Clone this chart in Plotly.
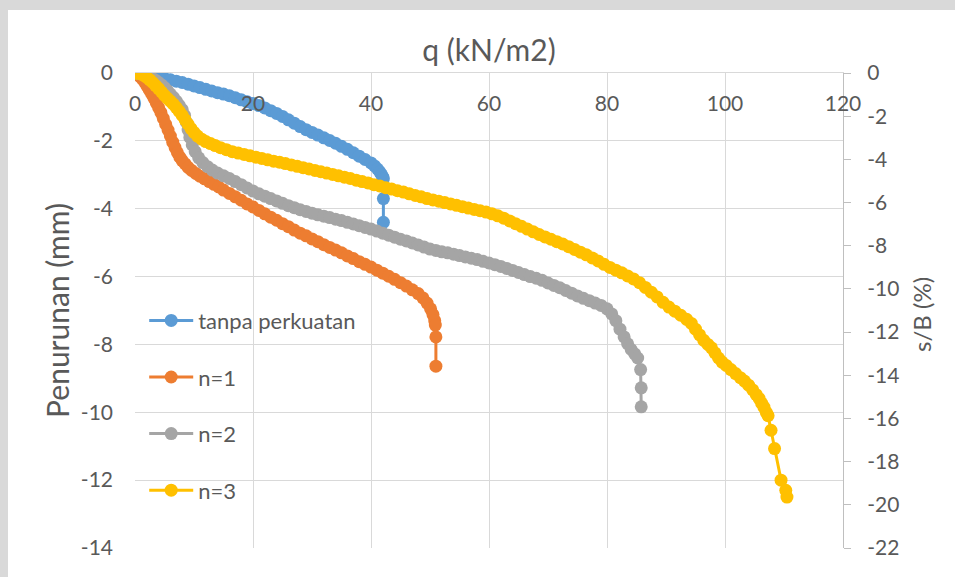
import plotly.graph_objects as go

# Load-settlement readings: q (kN/m2) against settlement (mm)
q_tanpa = [0, 1, 2, 3, 4, 5, 6, 7, 8, 9, 10, 11, 12, 13, 14, 15, 16, 17, 18, 19, 20,
           21, 22, 23, 24, 25, 26, 27, 28, 29, 30, 31, 32, 33, 34, 35, 36, 37, 38, 39,
           40, 40.6, 41.1, 41.5, 41.8, 42.0, 42.1, 42.1, 42.1]
s_tanpa = [0, -0.03, -0.06, -0.1, -0.13, -0.16, -0.2, -0.24, -0.28, -0.33, -0.38, -0.43,
           -0.48, -0.53, -0.58, -0.62, -0.67, -0.73, -0.79, -0.85, -0.9, -0.96, -1.03,
           -1.11, -1.19, -1.28, -1.38, -1.48, -1.58, -1.67, -1.75, -1.83, -1.91, -1.99,
           -2.07, -2.16, -2.25, -2.35, -2.45, -2.55, -2.65, -2.74, -2.83, -2.92, -3.0,
           -3.07, -3.12, -3.7, -4.4]

q_n1 = [0, 0.4, 0.8, 1.2, 1.6, 2.0, 2.4, 2.8, 3.2, 3.6, 4.0, 4.4, 4.8, 5.2, 5.6, 6.0,
        6.4, 6.8, 7.2, 7.6, 8.0, 8.5, 9.0, 9.6, 10.3, 11, 11.8, 12.6, 13.4, 14.2, 15,
        16, 17, 18, 19, 20, 21, 22, 23, 24, 25, 26, 27, 28, 29, 30, 31, 32, 33, 34, 35,
        36, 37, 38, 39, 40, 41, 42, 43, 44, 45, 46, 47, 48, 48.8, 49.5, 50.1, 50.5,
        50.8, 50.9, 51, 51]
s_n1 = [0, -0.05, -0.1, -0.17, -0.26, -0.37, -0.49, -0.61, -0.74, -0.88, -1.02, -1.17,
        -1.34, -1.51, -1.68, -1.86, -2.04, -2.2, -2.35, -2.48, -2.58, -2.68, -2.78,
        -2.87, -2.96, -3.04, -3.12, -3.2, -3.28, -3.36, -3.45, -3.55, -3.65, -3.75,
        -3.86, -3.95, -4.05, -4.15, -4.25, -4.34, -4.44, -4.53, -4.63, -4.72, -4.8,
        -4.89, -4.97, -5.06, -5.14, -5.22, -5.3, -5.39, -5.47, -5.56, -5.64, -5.72,
        -5.81, -5.9, -5.99, -6.08, -6.18, -6.28, -6.39, -6.5, -6.63, -6.78, -6.95,
        -7.12, -7.3, -7.43, -7.78, -8.64]

q_n2 = [0, 0.5, 1, 1.5, 2, 2.5, 3, 3.5, 4, 4.5, 5, 5.5, 6, 6.5, 7, 7.5, 8, 8.4, 8.7,
        9.0, 9.3, 9.7, 10.2, 10.8, 11.5, 12.3, 13.1, 14, 15, 16, 17, 18, 19, 20, 21, 22,
        23, 24, 25, 26, 27, 28, 29, 30, 31, 32, 33, 34, 35, 36, 37, 38, 39, 40, 41, 42,
        43, 44, 45, 46, 47, 48, 49, 50, 51, 52, 53, 54, 55, 56, 57, 58, 59, 60, 61, 62,
        63, 64, 65, 66, 67, 68, 69, 70, 71, 72, 73, 74, 75, 76, 77, 78, 79, 80, 80.8,
        81.5, 82.2, 82.9, 83.5, 84.1, 84.7, 85.2, 85.7, 85.8, 85.8]
s_n2 = [0, -0.01, -0.03, -0.05, -0.08, -0.12, -0.17, -0.22, -0.28, -0.35, -0.43, -0.52,
        -0.62, -0.72, -0.83, -0.95, -1.08, -1.25, -1.45, -1.68, -1.9, -2.12, -2.32,
        -2.5, -2.64, -2.76, -2.86, -2.95, -3.03, -3.11, -3.2, -3.29, -3.39, -3.48,
        -3.56, -3.63, -3.7, -3.77, -3.84, -3.91, -3.97, -4.03, -4.08, -4.13, -4.18,
        -4.22, -4.26, -4.31, -4.35, -4.4, -4.45, -4.5, -4.55, -4.6, -4.66, -4.72,
        -4.78, -4.84, -4.9, -4.95, -5.01, -5.07, -5.13, -5.19, -5.23, -5.27, -5.3,
        -5.34, -5.38, -5.42, -5.46, -5.5, -5.55, -5.6, -5.65, -5.7, -5.76, -5.82,
        -5.88, -5.94, -6.0, -6.05, -6.11, -6.19, -6.26, -6.33, -6.41, -6.49, -6.57,
        -6.64, -6.71, -6.78, -6.85, -6.95, -7.1, -7.3, -7.55, -7.78, -7.98, -8.15,
        -8.28, -8.4, -8.74, -9.28, -9.84]

q_n3 = [0, 0.5, 1, 1.5, 2, 2.5, 3, 3.5, 4, 4.5, 5, 5.5, 6, 6.5, 7, 7.5, 8, 8.5, 9, 9.5,
        10, 10.6, 11.3, 12, 12.8, 13.6, 14.5, 15.5, 16.5, 17.5, 18.5, 19.5, 20.5, 21.5,
        22.5, 23.5, 24.5, 25.5, 26.5, 27.5, 28.5, 29.5, 30.5, 31.5, 32.5, 33.5, 34.5,
        35.5, 36.5, 37.5, 38.5, 39.5, 40.5, 41.5, 42.5, 43.5, 44.5, 45.5, 46.5, 47.5,
        48.5, 49.5, 50.5, 51.5, 52.5, 53.5, 54.5, 55.5, 56.5, 57.5, 58.5, 59.5, 60.5,
        61.5, 62.5, 63.5, 64.5, 65.5, 66.5, 67.5, 68.5, 69.5, 70.5, 71.5, 72.5, 73.5,
        74.5, 75.5, 76.5, 77.5, 78.5, 79.5, 80.5, 81.5, 82.5, 83.5, 84.5, 85.5, 86.5,
        87.5, 88.5, 89.5, 90.5, 91.5, 92.5, 93.5, 94.3, 95, 95.7, 96.4, 97.1, 97.7,
        98.3, 98.9, 99.5, 100.2, 101, 101.8, 102.6, 103.3, 104, 104.7, 105.3, 105.8,
        106.2, 106.6, 107, 107.3, 107.8, 108.4, 109.5, 110.3, 110.5]
s_n3 = [0, -0.01, -0.03, -0.07, -0.13, -0.2, -0.28, -0.37, -0.46, -0.56, -0.66, -0.75,
        -0.83, -0.92, -1.02, -1.13, -1.25, -1.38, -1.51, -1.64, -1.75, -1.86, -1.95,
        -2.02, -2.08, -2.14, -2.2, -2.26, -2.32, -2.36, -2.4, -2.44, -2.48, -2.52,
        -2.56, -2.6, -2.63, -2.67, -2.71, -2.75, -2.79, -2.83, -2.87, -2.91, -2.95,
        -2.99, -3.03, -3.07, -3.11, -3.16, -3.2, -3.24, -3.29, -3.33, -3.38, -3.42,
        -3.47, -3.51, -3.56, -3.61, -3.65, -3.7, -3.74, -3.78, -3.82, -3.86, -3.9,
        -3.94, -3.98, -4.02, -4.06, -4.1, -4.15, -4.21, -4.28, -4.36, -4.44, -4.52,
        -4.6, -4.68, -4.76, -4.83, -4.9, -4.97, -5.04, -5.12, -5.2, -5.28, -5.36,
        -5.45, -5.54, -5.64, -5.73, -5.81, -5.89, -5.98, -6.07, -6.18, -6.32, -6.46,
        -6.6, -6.76, -6.9, -7.02, -7.14, -7.26, -7.38, -7.55, -7.72, -7.88, -8.0,
        -8.1, -8.25, -8.4, -8.52, -8.62, -8.74, -8.86, -8.98, -9.08, -9.2, -9.34,
        -9.48, -9.6, -9.73, -9.85, -10.0, -10.1, -10.53, -11.07, -12.0, -12.3, -12.5]

series = [
    ("tanpa perkuatan", q_tanpa, s_tanpa, "#5b9bd5"),
    ("n=1", q_n1, s_n1, "#ed7d31"),
    ("n=2", q_n2, s_n2, "#a5a5a5"),
    ("n=3", q_n3, s_n3, "#ffc000"),
]

# Axis ticks (labels written with a plain hyphen, as in the spreadsheet output)
x_ticks = [0, 20, 40, 60, 80, 100, 120]
y_ticks = [0, -2, -4, -6, -8, -10, -12, -14]
y_labels = ["0", "-2", "-4", "-6", "-8", "-10", "-12", "-14"]
y2_ticks = [0, -2, -4, -6, -8, -10, -12, -14, -16, -18, -20, -22]
y2_labels = ["0", "-2", "-4", "-6", "-8", "-10", "-12", "-14", "-16", "-18", "-20", "-22"]

FONT = "Lato"
TXT = "#595959"
GRID = "#d9d9d9"
TICK_SIZE = 21

fig = go.Figure()
for name, q, s, color in series:
    fig.add_trace(go.Scatter(
        x=q, y=s, name=name, mode="lines+markers", legendgroup=name,
        line=dict(color=color, width=3),
        marker=dict(color=color, size=13),
    ))

# empty trace so the secondary s/B axis is drawn
fig.add_trace(go.Scatter(x=[None], y=[None], yaxis="y2", showlegend=False,
                         hoverinfo="skip"))

fig.update_layout(
    width=955, height=577,
    margin=dict(l=135, r=112, t=73, b=29),
    paper_bgcolor="white", plot_bgcolor="white",
    font=dict(family=FONT, color=TXT, size=TICK_SIZE),
    showlegend=True,
    legend=dict(x=0.013, y=0.523, xanchor="left", yanchor="top",
                bgcolor="rgba(0,0,0,0)", font=dict(size=22, color=TXT),
                tracegroupgap=25, itemwidth=44),
    xaxis=dict(
        side="top", range=[0, 120], tickvals=x_ticks,
        ticklabelposition="inside", ticklabeloverflow="allow",
        ticklabelstandoff=25,
        showgrid=True, gridcolor=GRID, gridwidth=1,
        showline=True, linecolor=GRID, linewidth=1, zeroline=False,
        ticks="", tickfont=dict(size=TICK_SIZE, color=TXT),
        title=dict(text="q (kN/m2)", font=dict(size=30, color=TXT), standoff=20),
    ),
    yaxis=dict(
        range=[-14, 0], tickvals=y_ticks, ticktext=y_labels,
        showgrid=True, gridcolor=GRID, gridwidth=1, zeroline=False,
        showline=False, ticks="", ticklabelstandoff=21,
        tickfont=dict(size=TICK_SIZE, color=TXT),
        title=dict(text="Penurunan (mm)", font=dict(size=30, color=TXT), standoff=2),
    ),
    yaxis2=dict(
        overlaying="y", side="right", anchor="x",
        range=[-22, 0], tickvals=y2_ticks, ticktext=y2_labels,
        showgrid=False, zeroline=False,
        showline=True, linecolor="#bfbfbf", linewidth=1,
        ticks="outside", ticklen=7, tickcolor="#bfbfbf",
        ticklabelstandoff=12,
        tickfont=dict(size=TICK_SIZE, color=TXT),
    ),
    annotations=[
        dict(text="s/B (%)", xref="paper", yref="paper", x=1.110, y=0.4926,
             xanchor="center", yanchor="middle", textangle=-90, showarrow=False,
             font=dict(size=24, color=TXT)),
    ],
    shapes=[
        dict(type="rect", xref="paper", yref="paper", layer="below",
             x0=-0.2, x1=1.2, y0=1.1326, y1=1.2, line=dict(width=0),
             fillcolor="#d9d9d9"),
        dict(type="rect", xref="paper", yref="paper", layer="below",
             x0=-0.2, x1=-0.1794, y0=-0.1, y1=1.2, line=dict(width=0),
             fillcolor="#d9d9d9"),
    ],
)

fig.write_html("out.html")
